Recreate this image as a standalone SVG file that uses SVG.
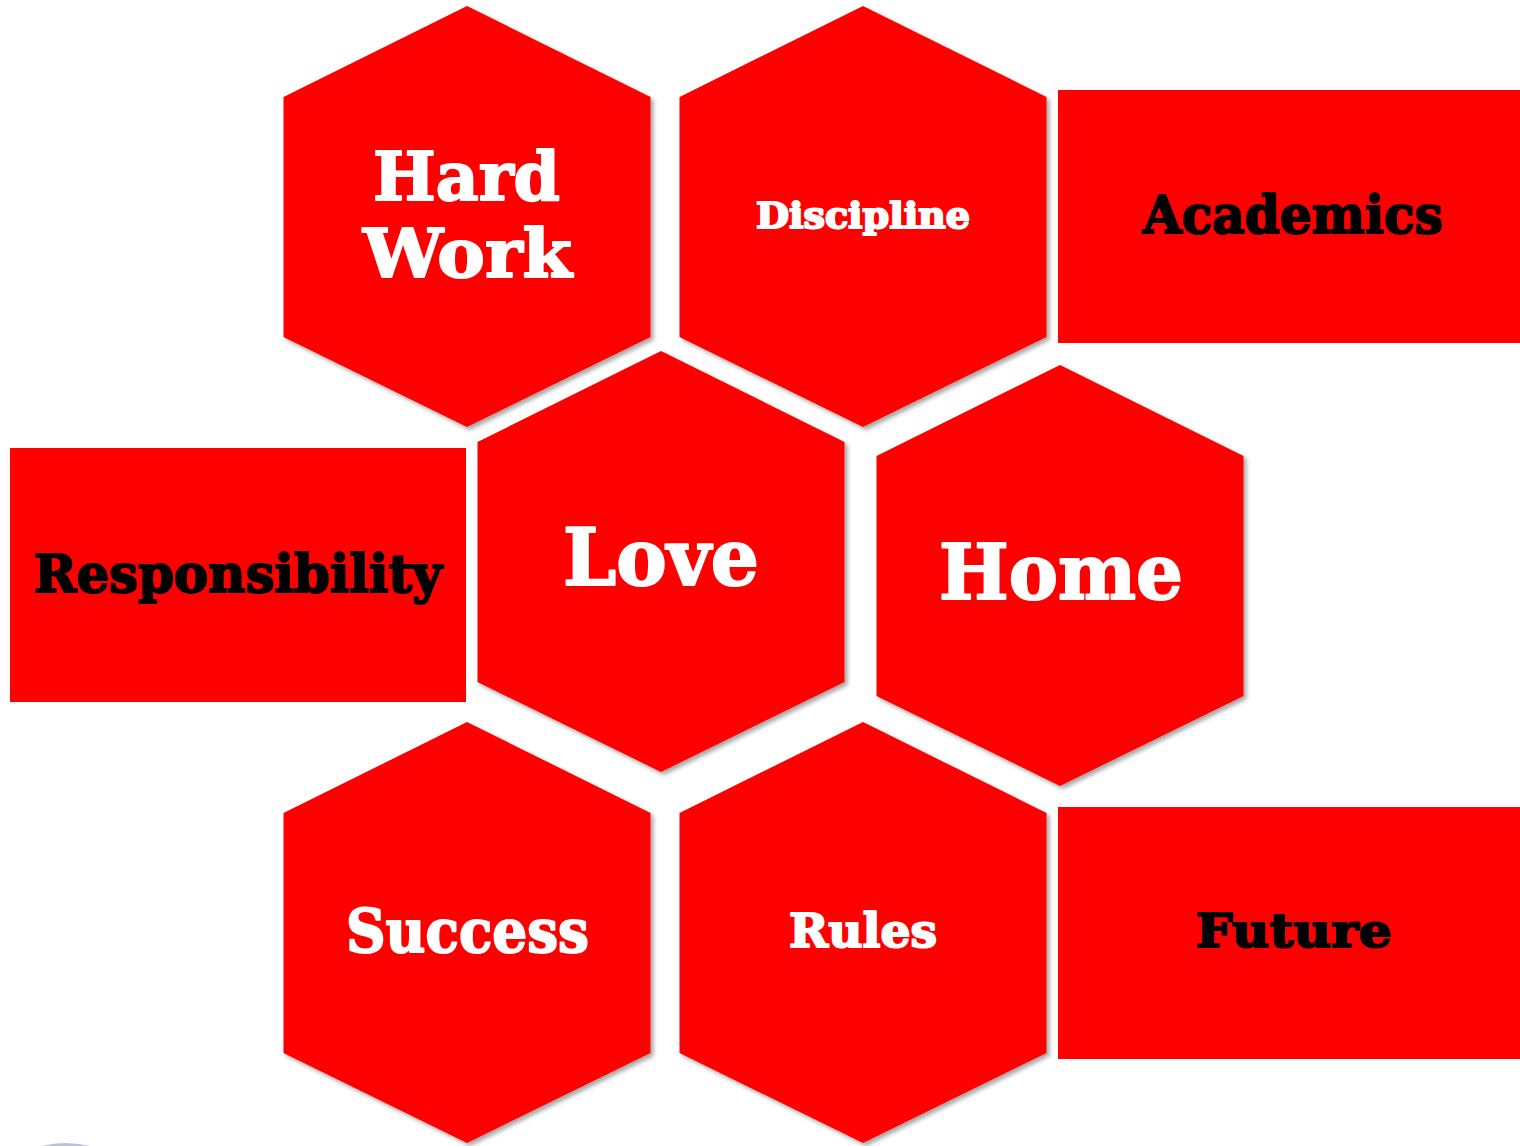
<svg xmlns="http://www.w3.org/2000/svg" width="1520" height="1146" viewBox="0 0 1520 1146">
  <style>
    .hex { fill: #ff0000; filter: url(#shadow); }
    .box { fill: #ff0000; }
    .lbl { font-family: "DejaVu Serif", "Liberation Serif", serif; font-weight: bold; }
    .w { fill: #ffffff; stroke: #ffffff; stroke-width: 2; stroke-linejoin: round; }
    .k { fill: #000000; stroke: #000000; stroke-width: 2; stroke-linejoin: round; }
  </style>
  <defs>
    <!-- one hexagon, 367 wide and 421 tall, top vertex at origin -->
    <polygon id="hexShape" points="0,0 183.5,91 183.5,331 0,421 -183.5,331 -183.5,91"/>
    <filter id="shadow" x="-10%" y="-10%" width="125%" height="125%">
      <feDropShadow dx="3" dy="3" stdDeviation="2.2" flood-color="#000000" flood-opacity="0.35"/>
    </filter>
  </defs>

  <rect width="1520" height="1146" fill="#ffffff"/>

  <g id="connectors"/>

  <g id="node-hard-work">
    <use href="#hexShape" class="hex" x="467" y="6"/>
    <text class="lbl w" x="373" y="200" font-size="68" textLength="187" lengthAdjust="spacingAndGlyphs">Hard</text>
    <text class="lbl w" x="363" y="277" font-size="68" textLength="209" lengthAdjust="spacingAndGlyphs">Work</text>
  </g>

  <g id="node-discipline">
    <use href="#hexShape" class="hex" x="863" y="6"/>
    <text class="lbl w" x="756" y="228" font-size="35" textLength="214" lengthAdjust="spacingAndGlyphs">Discipline</text>
  </g>

  <g id="node-academics">
    <rect class="box" x="1058" y="90" width="462" height="253"/>
    <text class="lbl k" x="1143" y="233" font-size="52" textLength="300" lengthAdjust="spacingAndGlyphs">Academics</text>
  </g>

  <g id="node-responsibility">
    <rect class="box" x="10" y="448" width="456" height="254"/>
    <text class="lbl k" x="34" y="592" font-size="53" textLength="408" lengthAdjust="spacingAndGlyphs">Responsibility</text>
  </g>

  <g id="node-love">
    <use href="#hexShape" class="hex" x="661" y="351"/>
    <text class="lbl w" x="563" y="585" font-size="78" textLength="196" lengthAdjust="spacingAndGlyphs">Love</text>
  </g>

  <g id="node-home">
    <use href="#hexShape" class="hex" x="1060" y="365"/>
    <text class="lbl w" x="939" y="599" font-size="77" textLength="244" lengthAdjust="spacingAndGlyphs">Home</text>
  </g>

  <g id="node-success">
    <use href="#hexShape" class="hex" x="467" y="722"/>
    <text class="lbl w" x="346" y="952" font-size="60" textLength="243" lengthAdjust="spacingAndGlyphs">Success</text>
  </g>

  <g id="node-rules">
    <use href="#hexShape" class="hex" x="863" y="722"/>
    <text class="lbl w" x="789" y="947" font-size="47" textLength="148" lengthAdjust="spacingAndGlyphs">Rules</text>
  </g>

  <g id="node-future">
    <rect class="box" x="1058" y="807" width="462" height="252"/>
    <text class="lbl k" x="1196" y="947" font-size="47" textLength="196" lengthAdjust="spacingAndGlyphs">Future</text>
  </g>

  <!-- small arc peeking in at the lower edge -->
  <path d="M42,1146 Q65,1140 90,1146 Z" fill="#9aa6c4" opacity="0.7"/>
</svg>
